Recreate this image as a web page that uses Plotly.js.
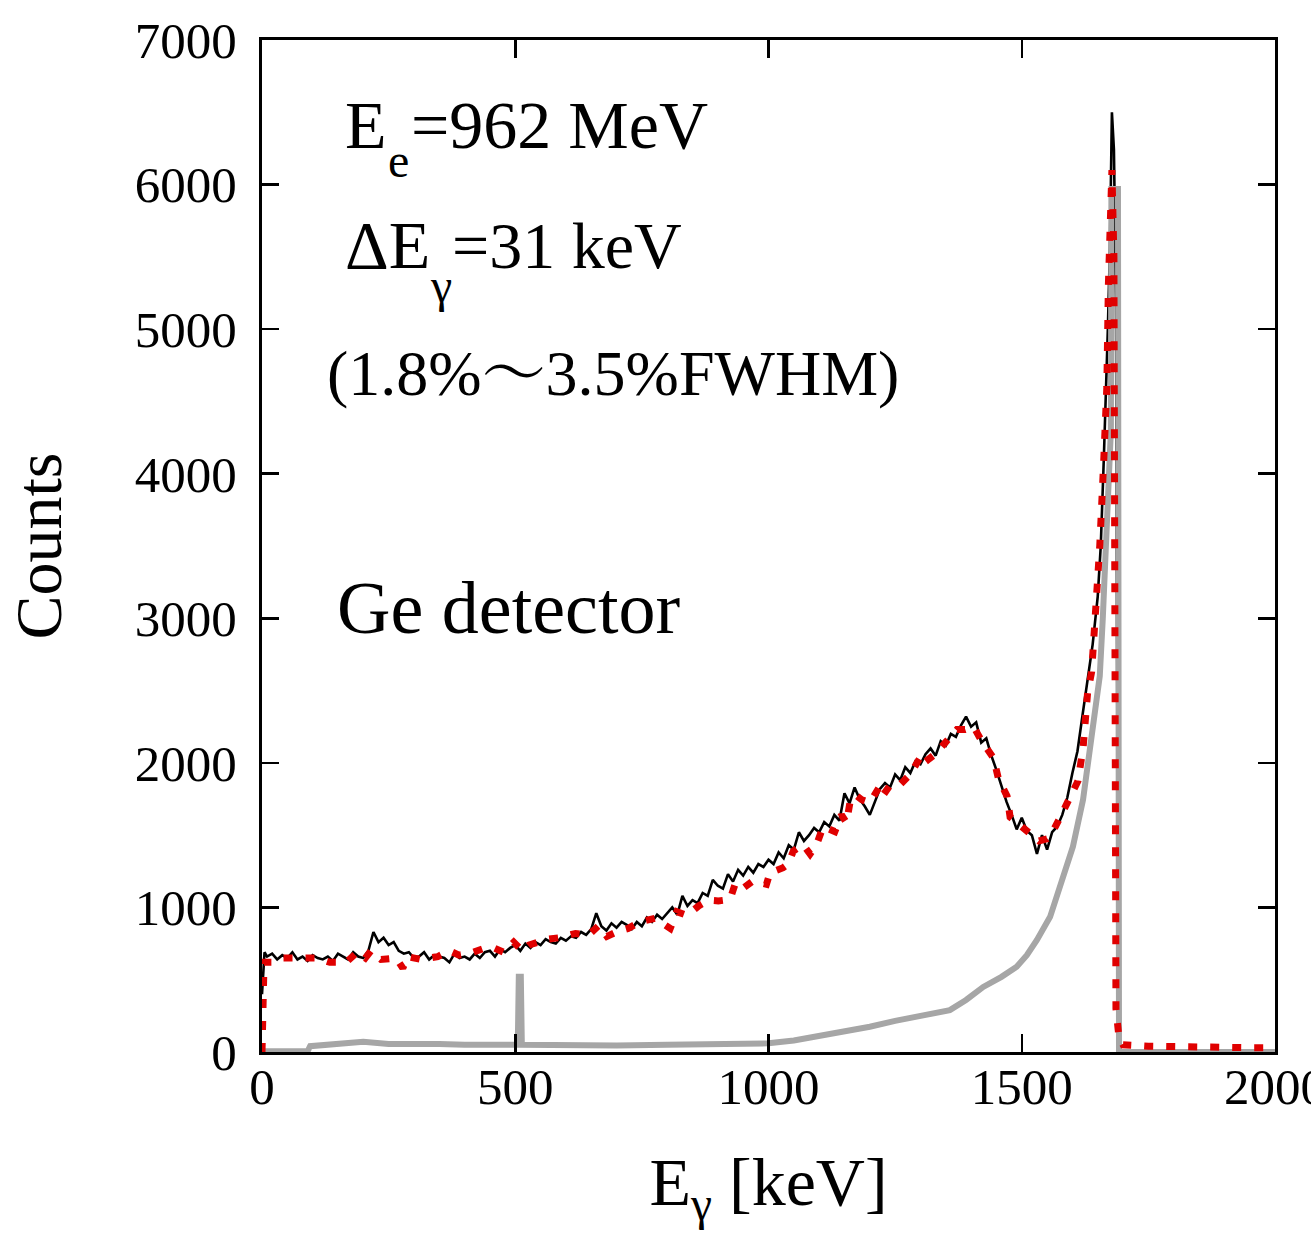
<!DOCTYPE html>
<html>
<head>
<meta charset="utf-8">
<script src="https://cdn.plot.ly/plotly-3.0.1.min.js"></script>
<style>html,body{margin:0;padding:0;background:#fff;}#chart{width:1311px;height:1243px;}</style>
</head>
<body>
<div id="chart"></div>
<script>
// Measured spectrum (black)
const measE = [0,5,10,20,30,40,50,60,70,80,90,100,110,120,130,140,150,160,170,180,190,200,210,220,230,240,250,260,270,280,290,300,310,320,330,340,350,360,370,380,390,400,410,420,430,440,450,460,470,480,490,500,510,520,530,540,550,560,570,580,590,600,610,620,630,640,650,660,670,680,690,700,710,720,730,740,750,760,770,780,790,800,810,820,830,840,850,860,870,880,890,900,910,920,930,940,950,960,970,980,990,1000,1010,1020,1030,1040,1050,1060,1070,1080,1090,1100,1110,1120,1130,1140,1150,1160,1170,1180,1190,1200,1210,1220,1230,1240,1250,1260,1270,1280,1290,1300,1310,1320,1330,1340,1350,1360,1370,1380,1390,1400,1410,1420,1430,1440,1450,1460,1470,1480,1490,1500,1510,1520,1530,1540,1550,1560,1570,1580,1590,1600,1610,1620,1630,1640,1650,1656,1662,1666,1670,1674,1678,1682,1686,1689,1691,1700];
const measCounts = [400,690,660,680,640,670,650,690,640,660,630,670,650,640,660,630,680,660,640,690,660,650,700,830,760,790,740,760,700,680,690,650,660,690,640,670,660,650,620,680,650,660,640,680,650,690,700,660,710,690,720,740,700,750,720,760,740,780,760,750,790,770,800,790,830,810,850,960,870,840,890,860,900,880,850,900,870,930,900,950,920,960,1000,950,1080,1010,1050,1030,1100,1080,1190,1150,1130,1230,1180,1260,1220,1280,1240,1300,1280,1330,1300,1380,1340,1430,1400,1520,1460,1500,1550,1520,1590,1560,1640,1600,1790,1720,1830,1750,1700,1640,1730,1820,1860,1830,1920,1880,1970,1930,2010,1990,2060,2100,2050,2150,2120,2200,2180,2260,2320,2250,2280,2140,2170,2050,1950,1840,1730,1640,1540,1620,1530,1500,1370,1500,1400,1520,1560,1640,1760,1930,2080,2330,2560,2820,3150,3500,4100,4500,5000,5550,6500,6240,5200,2000,0,0];

// Simulation with resolution (red dotted)
const simResE = [0,4,20,41,75,108,134,166,188,204,215,235,265,278,287,314,347,370,389,412,441,458,477,497,514,527,563,586,619,645,665,681,703,723,746,776,806,819,839,862,882,901,924,934,947,970,996,1003,1029,1039,1049,1068,1082,1095,1108,1131,1144,1154,1161,1171,1184,1200,1220,1227,1239,1257,1280,1299,1303,1329,1349,1372,1388,1405,1421,1444,1454,1471,1477,1510,1534,1550,1556,1576,1592,1611,1621,1630,1638,1646,1654,1662,1668,1671,1674,1678,1682,1684,1686,1692,1700,1750,1800,1850,1900,1950,2000];
const simResCounts = [0,620,620,650,650,650,620,620,690,650,700,640,650,580,660,640,660,700,670,685,720,720,690,760,700,740,780,790,820,810,875,800,835,855,900,925,855,970,945,1010,1050,1045,1055,1160,1125,1185,1160,1240,1275,1300,1390,1435,1370,1435,1560,1525,1640,1585,1730,1780,1745,1725,1840,1780,1840,1840,1920,2035,1990,2060,2140,2230,2230,2250,2150,2035,1890,1770,1625,1520,1460,1475,1490,1625,1730,1875,2100,2485,2630,3000,3500,4100,4600,5300,5800,6100,5500,2000,300,100,50,40,35,35,30,30,30];

// Ideal simulation (grey)
const simIdealE = [0,90,95,150,200,250,300,350,400,450,505,507,511,513,600,700,800,900,1000,1050,1100,1150,1200,1250,1300,1358,1390,1424,1460,1490,1510,1530,1556,1581,1601,1621,1635,1648,1654,1660,1666,1672,1676,1677,1690,1692,2000];
const simIdealCounts = [5,5,40,60,70,55,60,55,50,50,50,520,520,50,45,45,50,55,60,80,110,145,175,215,250,290,360,450,520,590,670,775,935,1190,1420,1745,2090,2390,2600,3000,3500,4100,4300,5970,5970,0,0];

const xTicks = [0,500,1000,1500,2000];
const xTickText = ['0','500','1000','1500','2000'];
const yTicks = [0,1000,2000,3000,4000,5000,6000,7000];
const yTickText = ['0','1000','2000','3000','4000','5000','6000','7000'];

const FONT = 'Liberation Serif, Times New Roman, Noto Serif CJK JP, Noto Sans CJK JP, serif';

const traces = [
  {x: measE, y: measCounts, type: 'scatter', mode: 'lines',
   line: {color: '#000000', width: 2.6}, hoverinfo: 'skip'},
  {x: simIdealE, y: simIdealCounts, type: 'scatter', mode: 'lines',
   line: {color: '#a6a6a6', width: 6}, hoverinfo: 'skip'},
  {x: simResE, y: simResCounts, type: 'scatter', mode: 'lines',
   line: {color: '#e00000', width: 7, dash: '9px,13px'}, hoverinfo: 'skip'}
];

function px2x(px){ return (px - 262) / 1013; }
function py2y(py){ return (1052 - py) / 1012; }

function ann(text, px, py, size){
  return {text: text, xref: 'paper', yref: 'paper', x: px2x(px), y: py2y(py),
          xanchor: 'left', yanchor: 'middle', showarrow: false,
          font: {family: FONT, size: size, color: '#000'}};
}

const layout = {
  width: 1311, height: 1243,
  margin: {l: 262, r: 36, t: 40, b: 191},
  paper_bgcolor: '#fff', plot_bgcolor: '#fff',
  showlegend: false,
  font: {family: FONT, color: '#000'},
  xaxis: {
    range: [0, 2000], tickvals: xTicks, ticktext: xTickText,
    ticks: 'inside', ticklen: 18, tickwidth: 2.5, tickcolor: '#000',
    showline: true, linewidth: 3, linecolor: '#000', mirror: 'ticks',
    showgrid: false, zeroline: false,
    tickfont: {family: FONT, size: 51, color: '#000'},
    ticklabelstandoff: -12, ticklabeloverflow: 'allow',
    title: {text: 'E<sub>γ</sub> [keV]', font: {family: FONT, size: 68, color: '#000'}, standoff: 44}
  },
  yaxis: {
    range: [0, 7000], tickvals: yTicks, ticktext: yTickText,
    ticks: 'inside', ticklen: 17, tickwidth: 2.5, tickcolor: '#000',
    showline: true, linewidth: 3, linecolor: '#000', mirror: 'ticks',
    showgrid: false, zeroline: false,
    tickfont: {family: FONT, size: 51, color: '#000'},
    ticklabelstandoff: 12, ticklabeloverflow: 'allow',
    title: {text: 'Counts', font: {family: FONT, size: 66, color: '#000'}, standoff: 52}
  },
  annotations: [
    ann('E', 343, 125, 68),
    ann('e', 386, 160, 48),
    ann('=962 MeV', 409, 125, 68),
    ann('ΔE', 343, 245, 68),
    ann('γ', 428, 285, 48),
    ann('=31 keV', 450, 245, 66),
    ann('(1.8%～3.5%FWHM)', 325, 373, 64),
    ann('Ge detector', 335, 608, 74)
  ]
};

Plotly.newPlot('chart', traces, layout, {staticPlot: true, displayModeBar: false});
</script>
</body>
</html>
